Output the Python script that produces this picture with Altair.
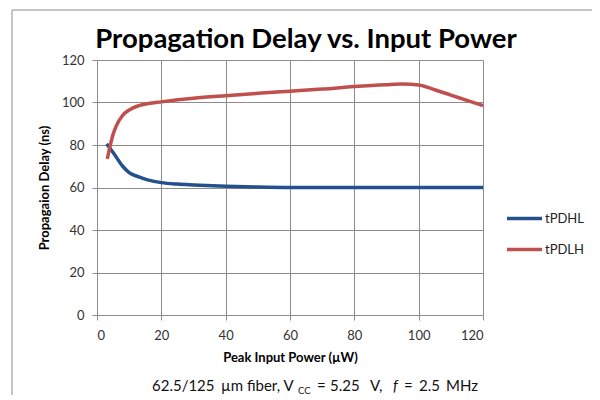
import altair as alt
import pandas as pd

# tPDHL series
x_hl = [3, 5, 8, 10, 13, 16, 20, 25, 30, 40, 50, 60, 70, 80, 90, 100, 110, 120]
y_hl = [80.5, 76.5, 70, 67, 65, 63.5, 62.3, 61.6, 61.2, 60.6, 60.2, 60, 60, 60, 60, 60, 60, 60]

# tPDLH series
x_lh = [3.2, 4, 5, 6, 8, 10, 13, 16, 20, 30, 40, 50, 60, 70, 80, 90, 95, 100, 105, 110, 115, 120]
y_lh = [73.5, 79, 85, 89, 94, 96.5, 98.5, 99.5, 100.3, 102, 103.2, 104.3, 105.3, 106.3, 107.5, 108.4, 108.7, 108.2, 106, 103.5, 101, 98.5]

series_names = ["tPDHL", "tPDLH"]
series_colors = ["#24508E", "#C0504D"]
ticks = [0, 20, 40, 60, 80, 100, 120]

title_text = "Propagation Delay vs. Input Power"
x_title = "Peak Input Power (µW)"
y_title = "Propagaion Delay (ns)"

df = pd.concat([
    pd.DataFrame({"power": x_hl, "delay": y_hl, "series": series_names[0]}),
    pd.DataFrame({"power": x_lh, "delay": y_lh, "series": series_names[1]}),
])

FONT = "Lato"
W, H = 386, 255

lines = alt.Chart(df).mark_line(strokeWidth=3.5, interpolate="monotone").encode(
    x=alt.X("power:Q", scale=alt.Scale(domain=[0, 120], nice=False),
            axis=alt.Axis(values=ticks, title=x_title)),
    y=alt.Y("delay:Q", scale=alt.Scale(domain=[0, 120], nice=False),
            axis=alt.Axis(values=ticks, title=y_title)),
    color=alt.Color("series:N", scale=alt.Scale(domain=series_names, range=series_colors),
                    legend=alt.Legend(title=None, orient="none", legendX=408, legendY=139,
                                      symbolType="stroke", symbolSize=1225, symbolStrokeWidth=3.5,
                                      labelFont=FONT, labelFontSize=13, labelColor="#222",
                                      labelOffset=1, rowPadding=4)),
)

one = alt.Data(values=[{"a": 1}])

frame = alt.Chart(one).mark_rect(fill=None, stroke="#8a8a8a", strokeWidth=1).encode(
    x=alt.value(-85), x2=alt.value(520), y=alt.value(-50), y2=alt.value(350)
)

title = alt.Chart(one).mark_text(text=title_text, align="center", baseline="alphabetic", font=FONT,
                                 fontSize=27.5, fontWeight="bold", color="#000").encode(
    x=alt.value(209), y=alt.value(-12))

sub_parts = [
    ("62.5/125", 55, 331, 15, "normal"),
    ("µm fiber, V", 124, 331, 15, "normal"),
    ("CC", 201, 334, 9.5, "normal"),
    ("=", 220, 331, 15, "normal"),
    ("5.25", 233, 331, 15, "normal"),
    ("V,", 273, 331, 15, "normal"),
    ("f", 296, 331, 15, "italic"),
    ("=", 307, 331, 15, "normal"),
    ("2.5", 322, 331, 15, "normal"),
    ("MHz", 349, 331, 15, "normal"),
]
sub_layers = []
for txt, px, py, fs, st in sub_parts:
    sub_layers.append(
        alt.Chart(one).mark_text(text=txt, align="left", baseline="alphabetic", font=FONT,
                                 fontSize=fs, fontStyle=st, color="#111").encode(
            x=alt.value(px), y=alt.value(py))
    )

chart = alt.layer(frame, lines, title, *sub_layers).properties(
    width=W, height=H,
    autosize=alt.AutoSizeParams(type="none"),
    padding={"left": 89, "top": 52, "right": 109, "bottom": 80},
).configure_view(stroke=None).configure_axis(
    grid=True, gridColor="#8c8c8c", gridWidth=1,
    domainColor="#8c8c8c", tickColor="#8c8c8c", tickSize=5,
    labelFont=FONT, labelFontSize=13, labelColor="#333",
    titleFont=FONT, titleFontSize=13, titleFontWeight="bold", titleColor="#000",
).configure_axisX(labelPadding=9, titlePadding=9).configure_axisY(labelPadding=8, titlePadding=10)

chart.save("out.html", embed_options={"renderer": "svg", "actions": False})
